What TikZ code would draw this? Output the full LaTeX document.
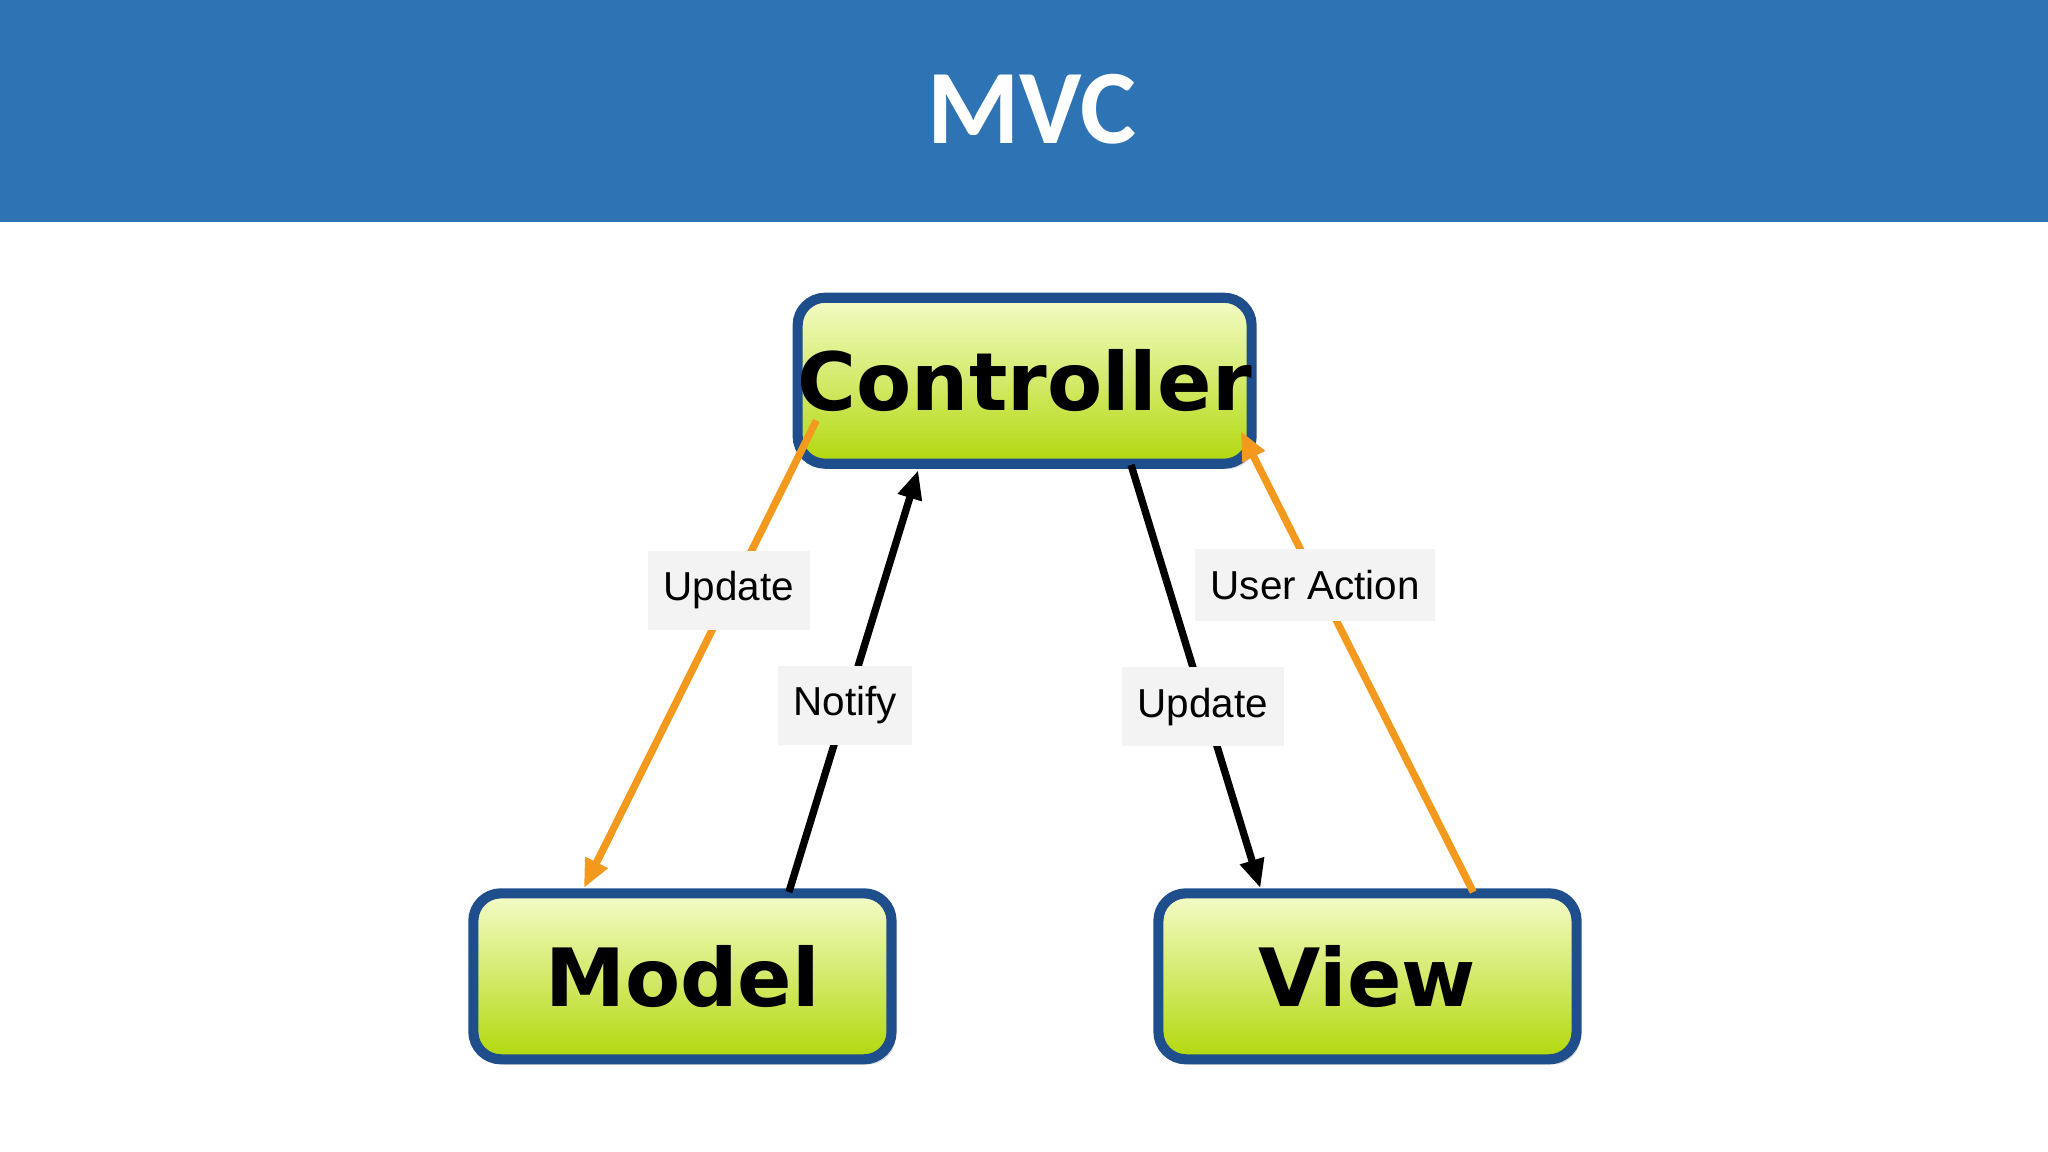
\documentclass[tikz,border=0pt]{standalone}
\usepackage{fontspec}
\setmainfont{Liberation Sans}
\newfontfamily\titlefont{Carlito}
\newfontfamily\boxfont{DejaVu Sans}
\usetikzlibrary{arrows.meta,shadows}
\definecolor{banner}{HTML}{2E74B5}
\definecolor{boxedge}{HTML}{1F4E8C}
\definecolor{gtop}{HTML}{F4FCC8}
\definecolor{gbot}{HTML}{B2D80C}
\definecolor{arrorange}{HTML}{F39A1E}
\definecolor{lblbg}{HTML}{F3F3F3}
\tikzset{
  mvcbox/.style={draw=boxedge,line width=2.2pt,rounded corners=6pt,top color=gtop,bottom color=gbot,
    minimum width=3.2cm,minimum height=1.27cm,inner sep=0pt,font=\boxfont\fontsize{17.5}{20}\selectfont\bfseries,
    drop shadow={shadow xshift=0.03cm,shadow yshift=-0.04cm,opacity=0.3}},
  oarr/.style={draw=arrorange,line width=1.6pt,-{Triangle[length=0.22cm,width=0.18cm]}},
  barr/.style={draw=black,line width=1.6pt,-{Triangle[length=0.22cm,width=0.18cm]}},
  lbl/.style={fill=lblbg,font=\fontsize{8.8}{10}\selectfont,inner xsep=0.12cm,inner ysep=0.16cm}
}
\begin{document}
\begin{tikzpicture}[x=0.01cm,y=-0.01cm]
\useasboundingbox (0,0) rectangle (1568,882);
\fill[banner] (0,0) rectangle (1568,170);
\node[text=white,font=\titlefont\fontsize{23}{26}\selectfont\bfseries] (title) at (790,84) {MVC};
\node[mvcbox] (ctrl) at (784.5,291.5) {Controller};
\node[mvcbox] (model) at (522.5,747.5) {Model};
\node[mvcbox] (view) at (1047,747.5) {View};
\coordinate (c1) at (625,322);
\coordinate (m1) at (447,680);
\coordinate (m2) at (604,683);
\coordinate (c2) at (703,360);
\coordinate (c3) at (866,356);
\coordinate (v1) at (965,680);
\coordinate (v2) at (1128,683);
\coordinate (c4) at (950,330);
\draw[oarr] (c1) -- (m1);
\draw[barr] (m2) -- (c2);
\draw[barr] (c3) -- (v1);
\draw[oarr] (v2) -- (c4);
\node[lbl] (l1) at (558,452) {Update};
\node[lbl] (l2) at (647,540) {Notify};
\node[lbl] (l3) at (921,541) {Update};
\node[lbl] (l4) at (1007,448) {User Action};
\end{tikzpicture}
\end{document}
